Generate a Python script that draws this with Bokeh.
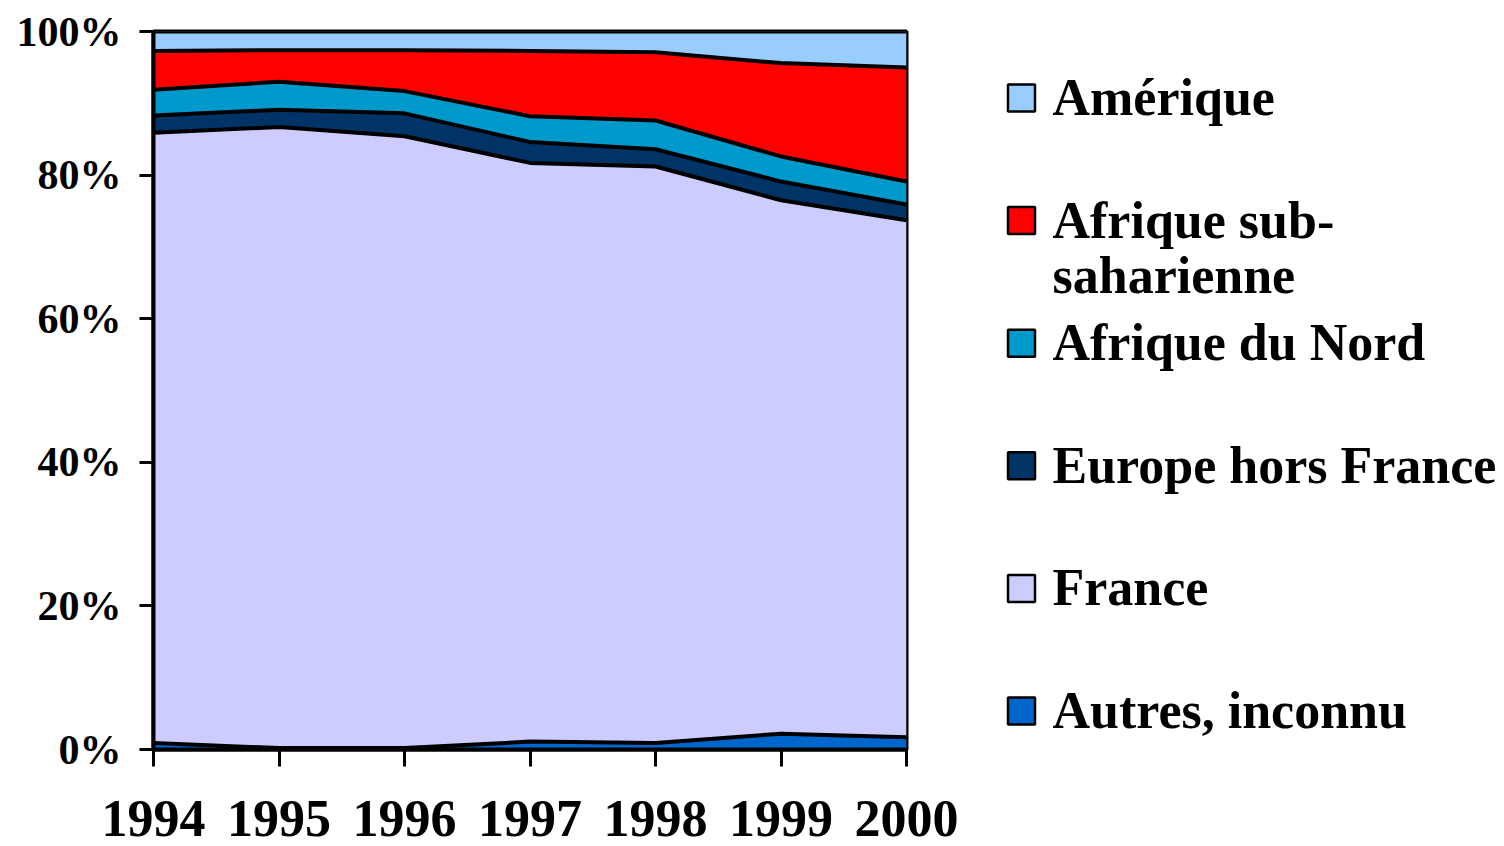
from bokeh.plotting import figure
from bokeh.models import ColumnDataSource, Range1d, FixedTicker, PrintfTickFormatter
from bokeh.layouts import row
from bokeh.embed import file_html
from bokeh.resources import INLINE
from bokeh.core.properties import value

# ---- data (shares in %) ----
years = [1994, 1995, 1996, 1997, 1998, 1999, 2000]
year_labels = ["1994", "1995", "1996", "1997", "1998", "1999", "2000"]
autres = [0.9, 0.2, 0.2, 1.1, 0.9, 2.2, 1.7]
france = [85.0, 86.5, 85.2, 80.6, 80.3, 74.3, 72.0]
europe = [2.4, 2.4, 3.2, 2.9, 2.4, 2.6, 2.2]
afrique_nord = [3.6, 3.9, 3.1, 3.6, 4.0, 3.5, 3.2]
afrique_sub = [5.4, 4.4, 5.7, 9.1, 9.5, 13.0, 15.9]
amerique = [2.7, 2.6, 2.6, 2.7, 2.9, 4.4, 5.0]

stack_keys = ["autres", "france", "europe", "afrique_nord", "afrique_sub", "amerique"]
stack_colors = ["#0066CC", "#CCCCFF", "#003366", "#0099CC", "#FF0000", "#99CCFF"]
legend_labels = ["Amérique", "Afrique sub-\nsaharienne", "Afrique du Nord",
                 "Europe hors France", "France", "Autres, inconnu"]
legend_colors = ["#99CCFF", "#FF0000", "#0099CC", "#003366", "#CCCCFF", "#0066CC"]
y_ticks = [0, 20, 40, 60, 80, 100]

FONT = value("Liberation Serif")

source = ColumnDataSource(dict(year=years, autres=autres, france=france, europe=europe,
                               afrique_nord=afrique_nord, afrique_sub=afrique_sub,
                               amerique=amerique))

TOP, FRAME_H, LEFT, FRAME_W, RIGHT = 31, 718, 153, 753, 60
MAIN_W = LEFT + FRAME_W + RIGHT
TOTAL_W, TOTAL_H = 1500, 846

p = figure(width=MAIN_W, height=TOTAL_H, output_backend="svg", toolbar_location=None,
           x_range=Range1d(1994, 2000), y_range=Range1d(0, 100),
           frame_width=FRAME_W, frame_height=FRAME_H,
           min_border_left=LEFT, min_border_top=TOP, min_border_right=RIGHT,
           min_border_bottom=TOTAL_H - TOP - FRAME_H)
p.xgrid.visible = False
p.ygrid.visible = False
p.outline_line_color = "black"
p.outline_line_width = 4
p.background_fill_color = "white"
p.border_fill_color = "white"

p.varea_stack(stackers=stack_keys, x="year", color=stack_colors, source=source)
p.vline_stack(stackers=stack_keys, x="year", color="black", line_width=4, source=source)

# y axis
p.yaxis.ticker = FixedTicker(ticks=y_ticks)
p.yaxis.formatter = PrintfTickFormatter(format="%d%%")
p.yaxis.axis_line_width = 4
p.yaxis.major_tick_line_width = 3
p.yaxis.major_tick_out = 14
p.yaxis.major_tick_in = 0
p.yaxis.minor_tick_line_color = None
p.yaxis.major_label_standoff = 18
p.yaxis.major_label_text_font = "Liberation Serif"
p.yaxis.major_label_text_font_style = "bold"
p.yaxis.major_label_text_font_size = "42px"
p.yaxis.major_label_text_color = "black"

# x axis
p.xaxis.ticker = FixedTicker(ticks=years)
p.xaxis.major_label_overrides = {y: l for y, l in zip(years, year_labels)}
p.xaxis.axis_line_width = 4
p.xaxis.major_tick_line_width = 3
p.xaxis.major_tick_out = 17
p.xaxis.major_tick_in = 0
p.xaxis.minor_tick_line_color = None
p.xaxis.major_label_standoff = 34
p.xaxis.major_label_text_font = "Liberation Serif"
p.xaxis.major_label_text_font_style = "bold"
p.xaxis.major_label_text_font_size = "52px"
p.xaxis.major_label_text_color = "black"

# ---- legend panel (ranges in page pixels) ----
LEG_W = TOTAL_W - MAIN_W
leg = figure(width=LEG_W, height=TOTAL_H, output_backend="svg", toolbar_location=None,
             x_range=Range1d(MAIN_W, TOTAL_W), y_range=Range1d(TOP + FRAME_H, TOP),
             frame_width=LEG_W, frame_height=FRAME_H,
             x_axis_location=None, y_axis_location=None,
             min_border_left=0, min_border_right=0, min_border_top=TOP,
             min_border_bottom=TOTAL_H - TOP - FRAME_H)
leg.xgrid.visible = False
leg.ygrid.visible = False
leg.outline_line_color = None

spacing = 122.6
base0 = 114
box_x, box_y, txt_x, txt_y, txt = [], [], [], [], []
for i, lab in enumerate(legend_labels):
    b = base0 + i * spacing
    box_x.append(1021)
    box_y.append(b - 16.5)
    for j, line in enumerate(lab.split("\n")):
        txt_x.append(1052)
        txt_y.append(b - 17 + j * 55)
        txt.append(line)

leg.rect(x=box_x, y=box_y, width=27, height=27, fill_color=legend_colors,
         line_color="black", line_width=2.5)
leg.text(x=txt_x, y=txt_y, text=txt, text_font=FONT, text_font_style="bold",
         text_font_size="52px", text_baseline="alphabetic", text_color="black")

layout = row(p, leg)
open("out.html", "w").write(file_html(layout, INLINE))
